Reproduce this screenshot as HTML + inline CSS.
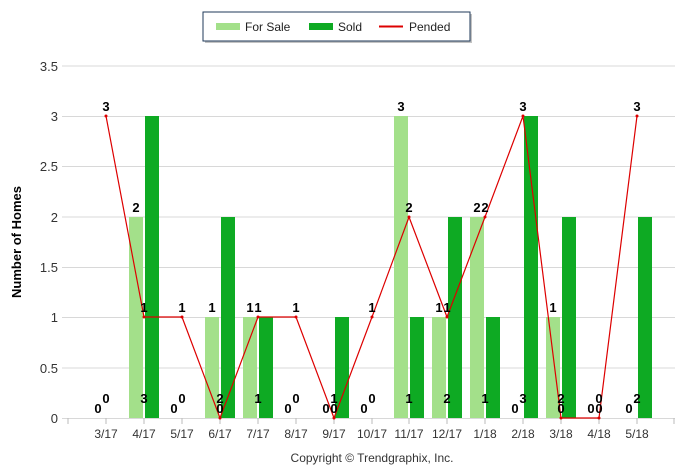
<!DOCTYPE html>
<html><head><meta charset="utf-8"><style>
html,body{margin:0;padding:0;background:#fff;}
svg{display:block;font-family:"Liberation Sans",Arial,sans-serif;}
.t{font-size:12px;fill:#333;}
.b{font-size:13px;font-weight:bold;fill:#000;text-anchor:middle;}
</style></head><body>
<svg width="699" height="469" viewBox="0 0 699 469">
<rect x="205" y="14" width="267" height="29" fill="#888" opacity="0.5"/>
<rect x="203" y="12" width="267" height="29" fill="#fff" stroke="#1f3a5a" stroke-width="1"/>
<rect x="216" y="23" width="24" height="7" fill="#a3e08a"/>
<text x="245" y="31" class="t" style="fill:#222">For Sale</text>
<rect x="309" y="23" width="24" height="7" fill="#0eaa23"/>
<text x="338" y="31" class="t" style="fill:#222">Sold</text>
<line x1="379" y1="26.5" x2="403" y2="26.5" stroke="#d00" stroke-width="2"/>
<text x="409" y="31" class="t" style="fill:#222">Pended</text>
<g stroke="#d8d8d8" stroke-width="1">
<line x1="62" y1="66" x2="675" y2="66"/>
<line x1="62" y1="166.5" x2="675" y2="166.5"/>
<line x1="62" y1="116.5" x2="675" y2="116.5"/>
<line x1="62" y1="217" x2="675" y2="217"/>
<line x1="62" y1="267.5" x2="675" y2="267.5"/>
<line x1="62" y1="317.5" x2="675" y2="317.5"/>
<line x1="62" y1="368" x2="675" y2="368"/>
<line x1="62" y1="418.5" x2="675" y2="418.5"/>
</g>
<g class="t" text-anchor="end" style="font-size:13px">
<text x="58" y="71">3.5</text><text x="58" y="121">3</text><text x="58" y="171">2.5</text>
<text x="58" y="222">2</text><text x="58" y="272">1.5</text><text x="58" y="322">1</text>
<text x="58" y="373">0.5</text><text x="58" y="423">0</text>
</g>
<text transform="translate(21,242) rotate(-90)" text-anchor="middle" style="font-size:13px;font-weight:bold">Number of Homes</text>
<g stroke="#bbb">
<line x1="68" y1="418" x2="68" y2="424"/><line x1="106" y1="418" x2="106" y2="424"/><line x1="144" y1="418" x2="144" y2="424"/><line x1="182" y1="418" x2="182" y2="424"/><line x1="220" y1="418" x2="220" y2="424"/><line x1="258" y1="418" x2="258" y2="424"/><line x1="296" y1="418" x2="296" y2="424"/><line x1="334" y1="418" x2="334" y2="424"/><line x1="372" y1="418" x2="372" y2="424"/><line x1="409" y1="418" x2="409" y2="424"/><line x1="447" y1="418" x2="447" y2="424"/><line x1="485" y1="418" x2="485" y2="424"/><line x1="523" y1="418" x2="523" y2="424"/><line x1="561" y1="418" x2="561" y2="424"/><line x1="599" y1="418" x2="599" y2="424"/><line x1="637" y1="418" x2="637" y2="424"/><line x1="674" y1="418" x2="674" y2="424"/>
</g>
<g class="t" text-anchor="middle">
<text x="106" y="438">3/17</text><text x="144" y="438">4/17</text><text x="182" y="438">5/17</text><text x="220" y="438">6/17</text><text x="258" y="438">7/17</text><text x="296" y="438">8/17</text><text x="334" y="438">9/17</text><text x="372" y="438">10/17</text><text x="409" y="438">11/17</text><text x="447" y="438">12/17</text><text x="485" y="438">1/18</text><text x="523" y="438">2/18</text><text x="561" y="438">3/18</text><text x="599" y="438">4/18</text><text x="637" y="438">5/18</text>
</g>
<text x="372" y="462" class="t" text-anchor="middle">Copyright © Trendgraphix, Inc.</text>
<g fill="#a3e08a">
<rect x="129" y="217" width="14" height="201"/>
<rect x="205" y="317" width="14" height="101"/>
<rect x="243" y="317" width="14" height="101"/>
<rect x="394" y="116" width="14" height="302"/>
<rect x="432" y="317" width="14" height="101"/>
<rect x="470" y="217" width="14" height="201"/>
<rect x="546" y="317" width="14" height="101"/>
</g>
<g fill="#0eaa23">
<rect x="145" y="116" width="14" height="302"/>
<rect x="221" y="217" width="14" height="201"/>
<rect x="259" y="317" width="14" height="101"/>
<rect x="335" y="317" width="14" height="101"/>
<rect x="410" y="317" width="14" height="101"/>
<rect x="448" y="217" width="14" height="201"/>
<rect x="486" y="317" width="14" height="101"/>
<rect x="524" y="116" width="14" height="302"/>
<rect x="562" y="217" width="14" height="201"/>
<rect x="638" y="217" width="14" height="201"/>
</g>
<polyline fill="none" stroke="#d00" stroke-width="1.2" points="106,116 144,317 182,317 220,418 258,317 296,317 334,418 372,317 409,217 447,317 485,217 523,116 561,418 599,418 637,116"/>
<g fill="#d00">
<circle cx="106" cy="116" r="1.5"/><circle cx="144" cy="317" r="1.5"/><circle cx="182" cy="317" r="1.5"/><circle cx="220" cy="418" r="1.5"/><circle cx="258" cy="317" r="1.5"/><circle cx="296" cy="317" r="1.5"/><circle cx="334" cy="418" r="1.5"/><circle cx="372" cy="317" r="1.5"/><circle cx="409" cy="217" r="1.5"/><circle cx="447" cy="317" r="1.5"/><circle cx="485" cy="217" r="1.5"/><circle cx="523" cy="116" r="1.5"/><circle cx="561" cy="418" r="1.5"/><circle cx="599" cy="418" r="1.5"/><circle cx="637" cy="116" r="1.5"/>
</g>
<g class="b">
<text x="98" y="413">0</text><text x="136" y="212">2</text><text x="174" y="413">0</text><text x="212" y="312">1</text><text x="250" y="312">1</text><text x="288" y="413">0</text><text x="326" y="413">0</text><text x="364" y="413">0</text><text x="401" y="111">3</text><text x="439" y="312">1</text><text x="477" y="212">2</text><text x="515" y="413">0</text><text x="553" y="312">1</text><text x="591" y="413">0</text><text x="629" y="413">0</text>
</g>
<g class="b">
<text x="106" y="403">0</text><text x="144" y="403">3</text><text x="182" y="403">0</text><text x="220" y="403">2</text><text x="258" y="403">1</text><text x="296" y="403">0</text><text x="334" y="403">1</text><text x="372" y="403">0</text><text x="409" y="403">1</text><text x="447" y="403">2</text><text x="485" y="403">1</text><text x="523" y="403">3</text><text x="561" y="403">2</text><text x="599" y="403">0</text><text x="637" y="403">2</text>
</g>
<g class="b">
<text x="106" y="111">3</text><text x="144" y="312">1</text><text x="182" y="312">1</text><text x="220" y="413">0</text><text x="258" y="312">1</text><text x="296" y="312">1</text><text x="334" y="413">0</text><text x="372" y="312">1</text><text x="409" y="212">2</text><text x="447" y="312">1</text><text x="485" y="212">2</text><text x="523" y="111">3</text><text x="561" y="413">0</text><text x="599" y="413">0</text><text x="637" y="111">3</text>
</g>
</svg>
</body></html>
